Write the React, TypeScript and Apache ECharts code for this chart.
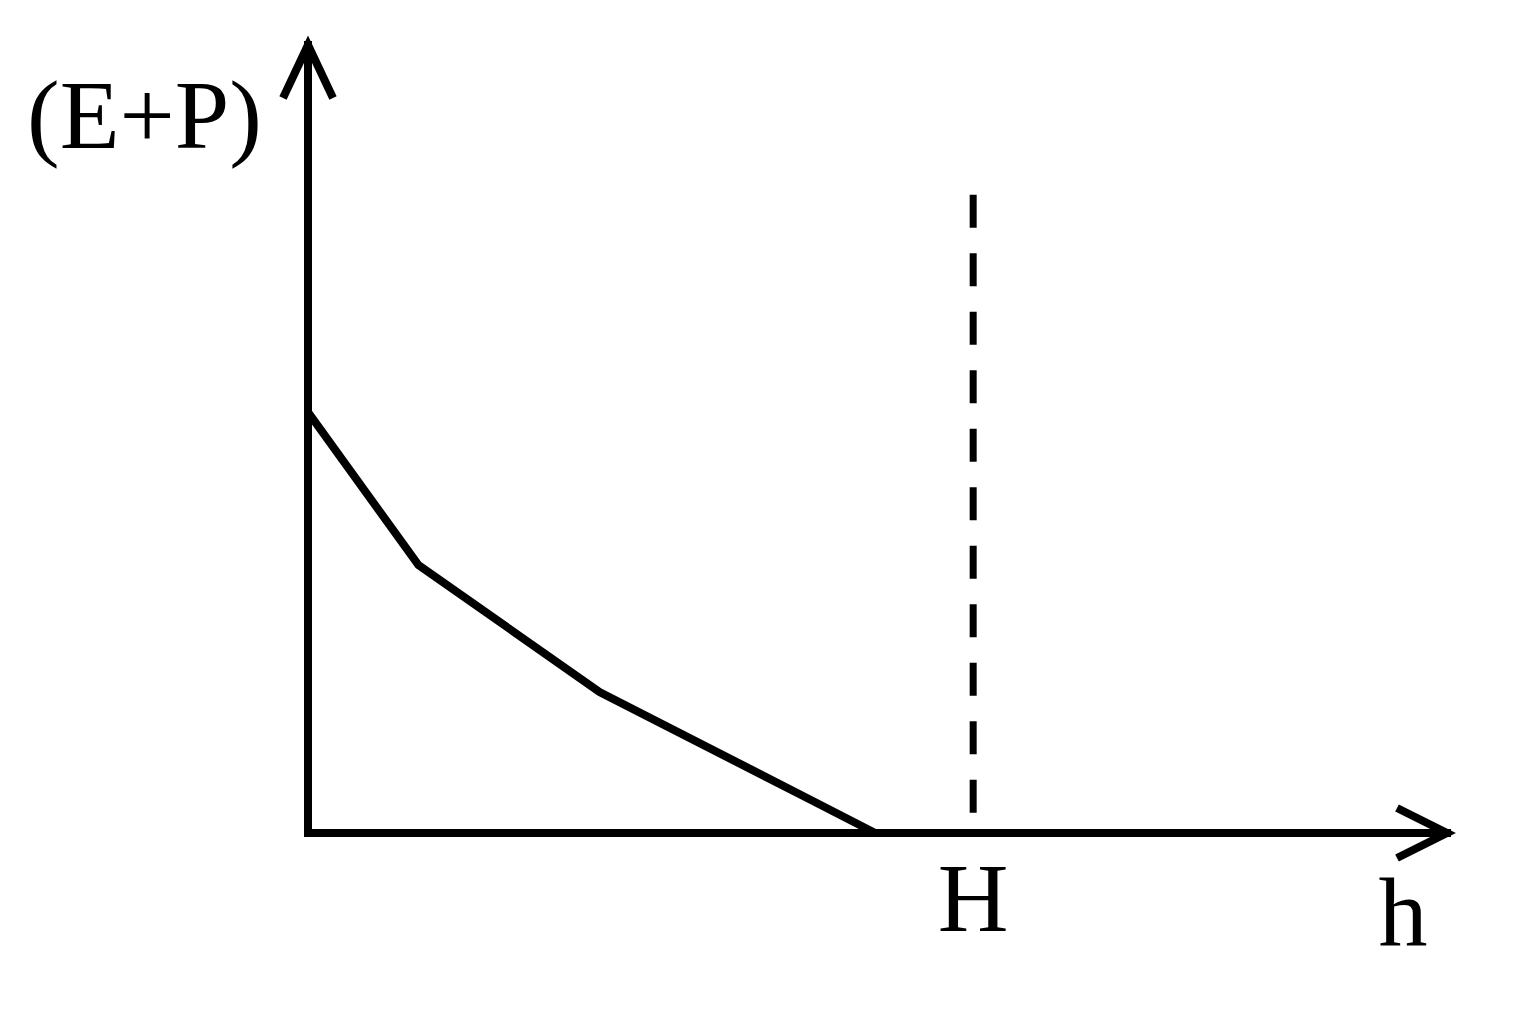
import React, { useEffect, useRef } from "react";
import * as echarts from "echarts";

// curve of (E+P) against height h
const hValues = [0, 9.7, 25.6, 43.6, 49.8];
const epValues = [53.4, 34.0, 17.9, 4.6, 0];

// height H marked with the dashed line
const H_VALUE = 58.4;
const dashedEnds = [81.0, 2.0];

const X_MAX = 100;
const Y_MAX = 100;

const FONT = "'Liberation Serif', 'Times New Roman', serif";
const STROKE = 8;

const App: React.FC = () => {
  const chartRef = useRef<HTMLDivElement>(null);

  useEffect(() => {
    const chart = echarts.init(chartRef.current!, null, { renderer: "svg" });

    const option: echarts.EChartsOption = {
      animation: false,
      backgroundColor: "#ffffff",
      grid: {
        left: 308,
        right: 91,
        top: 45,
        bottom: 189,
        containLabel: false,
        outerBoundsMode: "none",
      } as any,
      xAxis: {
        type: "value",
        min: 0,
        max: X_MAX,
        name: "h",
        nameLocation: "end",
        nameGap: -44,
        nameTextStyle: {
          color: "#000",
          fontFamily: FONT,
          fontSize: 98,
          align: "center",
          verticalAlign: "top",
          padding: [30, 0, 0, 0],
        },
        axisLine: {
          lineStyle: { color: "#000", width: STROKE, cap: "square" },
        },
        axisTick: { show: false },
        splitLine: { show: false },
        axisLabel: {
          customValues: [H_VALUE],
          formatter: () => "H",
          color: "#000",
          fontFamily: FONT,
          fontSize: 98,
          margin: 16,
        },
      } as any,
      yAxis: {
        type: "value",
        min: 0,
        max: Y_MAX,
        name: "(E+P)",
        nameLocation: "end",
        nameGap: -70,
        nameTextStyle: {
          color: "#000",
          fontFamily: FONT,
          fontSize: 98,
          align: "right",
          verticalAlign: "middle",
          padding: [0, 46, 0, 0],
        },
        axisLine: {
          lineStyle: { color: "#000", width: STROKE, cap: "square" },
        },
        axisTick: { show: false },
        splitLine: { show: false },
        axisLabel: { show: false },
      },
      series: [
        {
          type: "line",
          data: hValues.map((h, i) => [h, epValues[i]]),
          symbol: "none",
          silent: true,
          lineStyle: { color: "#000", width: STROKE, join: "miter" },
          z: 3,
        },
        {
          type: "line",
          data: dashedEnds.map((v) => [H_VALUE, v]),
          symbol: "none",
          silent: true,
          lineStyle: { color: "#000", width: 7, type: [33, 25.5], cap: "butt" },
          z: 2,
        },
      ],
    };

    chart.setOption(option);

    // open chevron arrow heads at the ends of both axes
    const yTip = chart.convertToPixel({ gridIndex: 0 }, [0, Y_MAX]) as number[];
    const xTip = chart.convertToPixel({ gridIndex: 0 }, [X_MAX, 0]) as number[];
    const arrowStyle = { stroke: "#000", lineWidth: STROKE, fill: null, lineJoin: "miter" };
    chart.setOption({
      graphic: [
        {
          type: "polyline",
          silent: true,
          shape: {
            points: [
              [yTip[0] - 25, yTip[1] + 53],
              [yTip[0], yTip[1]],
              [yTip[0] + 25, yTip[1] + 53],
            ],
          },
          style: arrowStyle,
          z: 10,
        },
        {
          type: "polyline",
          silent: true,
          shape: {
            points: [
              [xTip[0] - 50, xTip[1] - 25],
              [xTip[0], xTip[1]],
              [xTip[0] - 50, xTip[1] + 25],
            ],
          },
          style: arrowStyle,
          z: 10,
        },
      ],
    } as any);

    return () => {
      chart.dispose();
    };
  }, []);

  return (
    <div
      ref={chartRef}
      style={{
        position: "absolute",
        left: 0,
        top: 0,
        width: "1538px",
        height: "1022px",
        background: "#fff",
      }}
    />
  );
};

export default App;
